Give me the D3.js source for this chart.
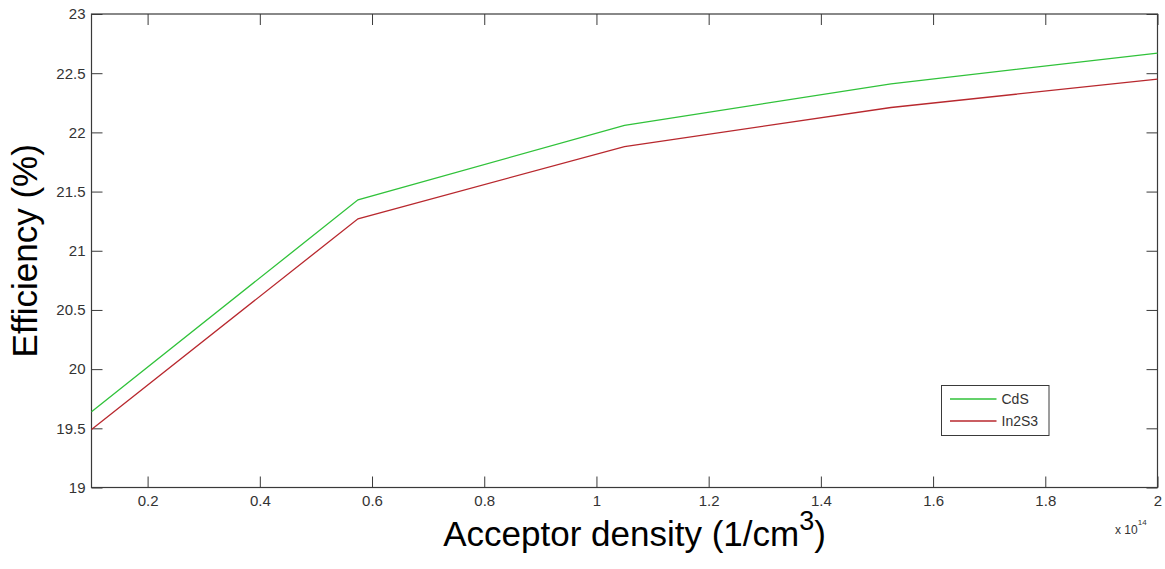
<!DOCTYPE html>
<html>
<head>
<meta charset="utf-8">
<script src="https://cdn.jsdelivr.net/npm/d3@7/dist/d3.min.js"></script>
<style>
  html, body { margin: 0; padding: 0; background: #fff; }
  svg { display: block; font-family: "Liberation Sans", Arial, sans-serif; }
</style>
</head>
<body>
<svg id="chart" width="1165" height="569"></svg>
<script>
// Acceptor density (x 10^14 cm^-3)
const density = [0.1, 0.575, 1.05, 1.525, 2.0];
// Efficiency (%) for each buffer layer
const cdsEff  = [19.64, 21.43, 22.06, 22.41, 22.67];
const in2s3Eff = [19.49, 21.27, 21.88, 22.21, 22.45];
const seriesNames = ["CdS", "In2S3"];
const xTicks = [0.2, 0.4, 0.6, 0.8, 1, 1.2, 1.4, 1.6, 1.8, 2];
const yTicks = [19, 19.5, 20, 20.5, 21, 21.5, 22, 22.5, 23];

(function () {
  const W = 1165, H = 569;
  const m = { left: 91.5, right: W - 1157.5, top: 14, bottom: H - 487.5 };
  const svg = d3.select("#chart");
  const iw = W - m.left - m.right, ih = H - m.top - m.bottom;
  const g = svg.append("g").attr("transform", `translate(${m.left},${m.top})`);

  const x = d3.scaleLinear().domain([0.1, 2]).range([0, iw]);
  const y = d3.scaleLinear().domain([19, 23]).range([ih, 0]);

  const axisColor = "#3a3a3a";
  const labelColor = "#333";
  const tickLen = 11;
  const fmt = d => String(d);

  // Bottom and left axes with inward ticks
  const axBottom = g.append("g").attr("transform", `translate(0,${ih})`)
    .call(d3.axisBottom(x).tickValues(xTicks).tickFormat(fmt).tickSizeInner(-tickLen).tickSizeOuter(0).tickPadding(8));
  const axLeft = g.append("g")
    .call(d3.axisLeft(y).tickValues(yTicks).tickFormat(fmt).tickSizeInner(-tickLen).tickSizeOuter(0).tickPadding(6));
  // Mirrored ticks on top and right
  const axTop = g.append("g")
    .call(d3.axisTop(x).tickValues(xTicks).tickFormat("").tickSizeInner(-tickLen).tickSizeOuter(0));
  const axRight = g.append("g").attr("transform", `translate(${iw},0)`)
    .call(d3.axisRight(y).tickValues(yTicks).tickFormat("").tickSizeInner(-tickLen).tickSizeOuter(0));

  [axBottom, axLeft, axTop, axRight].forEach(a => {
    a.select(".domain").remove();
    a.selectAll(".tick line").attr("stroke", axisColor).attr("stroke-width", 1);
    a.selectAll(".tick text").attr("fill", labelColor).style("font-size", "15px");
  });
  // Plot box
  g.append("rect").attr("x", 0).attr("y", 0).attr("width", iw).attr("height", ih)
    .attr("fill", "none").attr("stroke", axisColor).attr("stroke-width", 1.2);

  // Lines
  const line = d3.line().x((d, i) => x(density[i])).y(d => y(d));
  const colors = ["#30c23a", "#b8282e"];
  [cdsEff, in2s3Eff].forEach((s, k) => {
    g.append("path").datum(s).attr("d", line)
      .attr("fill", "none").attr("stroke", colors[k]).attr("stroke-width", 1.3);
  });

  // Exponent label
  const ex = svg.append("text").attr("x", 1115).attr("y", 534).attr("fill", labelColor).style("font-size", "12px");
  ex.append("tspan").text("x 10");
  ex.append("tspan").attr("dy", -9).style("font-size", "8px").text("14");

  // Axis titles
  const xt = svg.append("text").attr("x", m.left + iw / 2 + 10).attr("y", 546)
    .attr("text-anchor", "middle").attr("fill", "#000").style("font-size", "35px");
  xt.append("tspan").text("Acceptor density (1/cm");
  xt.append("tspan").attr("dy", -16).style("font-size", "27px").text("3");
  xt.append("tspan").attr("dy", 16).text(")");

  svg.append("text")
    .attr("transform", `translate(37,${m.top + ih / 2}) rotate(-90)`)
    .attr("text-anchor", "middle").attr("fill", "#000").style("font-size", "35px")
    .text("Efficiency (%)");

  // Legend
  const lg = svg.append("g").attr("transform", "translate(941.5,385.5)");
  lg.append("rect").attr("width", 107.5).attr("height", 50)
    .attr("fill", "#fff").attr("stroke", axisColor).attr("stroke-width", 1);
  seriesNames.forEach((n, k) => {
    const yy = 13.5 + k * 22;
    lg.append("line").attr("x1", 8.5).attr("x2", 55).attr("y1", yy).attr("y2", yy)
      .attr("stroke", colors[k]).attr("stroke-width", 1.3);
    lg.append("text").attr("x", 60).attr("y", yy + 5).attr("fill", labelColor)
      .style("font-size", "14px").text(n);
  });
})();
</script>
</body>
</html>
